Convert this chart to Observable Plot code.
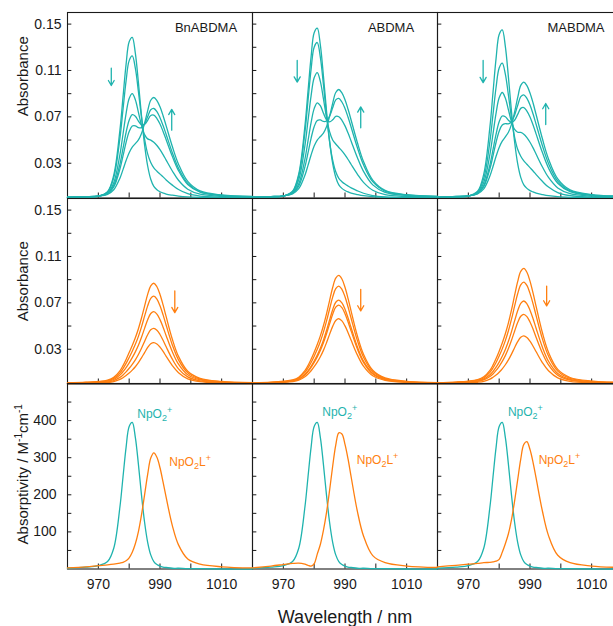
<!DOCTYPE html>
<html><head><meta charset="utf-8">
<script src="https://cdn.jsdelivr.net/npm/d3@7"></script>
<script src="https://cdn.jsdelivr.net/npm/@observablehq/plot@0.6"></script>
<style>
html,body{margin:0;padding:0;background:#fff;overflow:hidden;}
#chart{position:relative;width:613px;height:626px;overflow:hidden;background:#fff;}
</style></head><body><div id="chart"></div>
<script>
// ---------- data ----------
const wavelength = [960,966,970,973,975,977,978,979,980,981,982,983,984,985,986,987,988,989,990,991,992,994,996,999,1003,1010,1020];
const ligands = ["BnABDMA","ABDMA","MABDMA"];

// Row 1: titration spectra (absorbance), one array per curve
const topBnABDMA = [
 [.0004,.0009,.0015,.0055,.0197,.0586,.0870,.1152,.1348,.1386,.1249,.0995,.0709,.0458,.0276,.0162,.0100,.0071,.0054,.0043,.0034,.0024,.0016,.0009,.0005,.0002,.0001],
 [.0005,.0009,.0016,.0052,.0176,.0516,.0763,.1010,.1185,.1225,.1120,.0918,.0695,.0509,.0381,.0306,.0260,.0231,.0206,.0182,.0156,.0111,.0073,.0037,.0017,.0007,.0004],
 [.0006,.0010,.0016,.0043,.0132,.0374,.0550,.0728,.0859,.0901,.0848,.0739,.0626,.0547,.0510,.0499,.0480,.0453,.0417,.0374,.0327,.0233,.0153,.0076,.0033,.0014,.0007],
 [.0007,.0011,.0017,.0040,.0109,.0293,.0427,.0565,.0671,.0719,.0706,.0664,.0632,.0635,.0670,.0712,.0714,.0685,.0638,.0574,.0503,.0359,.0236,.0116,.0050,.0021,.0011],
 [.0007,.0011,.0017,.0037,.0095,.0250,.0363,.0480,.0573,.0621,.0623,.0608,.0607,.0641,.0702,.0761,.0772,.0744,.0693,.0625,.0548,.0391,.0257,.0126,.0054,.0023,.0012],
 [.0007,.0011,.0017,.0032,.0071,.0171,.0245,.0323,.0391,.0439,.0469,.0501,.0557,.0645,.0752,.0843,.0867,.0840,.0786,.0710,.0622,.0444,.0292,.0143,.0061,.0026,.0013]
];
const topABDMA = [
 [.0005,.0009,.0016,.0058,.0208,.0620,.0920,.1217,.1425,.1465,.1321,.1054,.0753,.0490,.0298,.0179,.0113,.0083,.0065,.0052,.0042,.0030,.0020,.0011,.0006,.0003,.0001],
 [.0005,.0009,.0016,.0054,.0191,.0566,.0839,.1110,.1301,.1341,.1215,.0979,.0715,.0487,.0326,.0226,.0170,.0141,.0120,.0103,.0087,.0062,.0041,.0021,.0010,.0004,.0002],
 [.0006,.0010,.0017,.0049,.0157,.0451,.0666,.0881,.1037,.1082,.1006,.0856,.0696,.0572,.0500,.0466,.0436,.0406,.0371,.0332,.0289,.0206,.0135,.0067,.0029,.0013,.0006],
 [.0007,.0012,.0018,.0044,.0123,.0336,.0492,.0650,.0771,.0821,.0796,.0732,.0675,.0656,.0674,.0704,.0701,.0670,.0622,.0560,.0490,.0350,.0230,.0113,.0049,.0021,.0010],
 [.0008,.0012,.0019,.0041,.0103,.0268,.0389,.0515,.0615,.0668,.0673,.0660,.0664,.0706,.0778,.0846,.0859,.0828,.0772,.0696,.0610,.0435,.0286,.0141,.0060,.0026,.0013],
 [.0008,.0012,.0019,.0036,.0080,.0196,.0281,.0371,.0448,.0500,.0530,.0559,.0614,.0704,.0816,.0910,.0936,.0906,.0847,.0765,.0671,.0479,.0315,.0154,.0066,.0028,.0014]
];
const topMABDMA = [
 [.0005,.0009,.0016,.0058,.0206,.0613,.0910,.1204,.1410,.1450,.1308,.1043,.0745,.0485,.0296,.0178,.0113,.0083,.0064,.0052,.0042,.0030,.0020,.0011,.0006,.0003,.0001],
 [.0005,.0010,.0016,.0050,.0168,.0488,.0721,.0955,.1121,.1163,.1069,.0888,.0689,.0526,.0420,.0360,.0320,.0291,.0262,.0233,.0202,.0144,.0094,.0047,.0021,.0009,.0005],
 [.0006,.0011,.0017,.0045,.0134,.0376,.0553,.0732,.0864,.0910,.0862,.0761,.0658,.0591,.0567,.0565,.0550,.0521,.0481,.0432,.0377,.0269,.0177,.0087,.0038,.0016,.0008],
 [.0007,.0012,.0018,.0041,.0108,.0286,.0417,.0551,.0657,.0707,.0701,.0670,.0652,.0671,.0721,.0773,.0780,.0750,.0699,.0630,.0551,.0394,.0259,.0127,.0055,.0023,.0012],
 [.0008,.0013,.0019,.0040,.0098,.0251,.0363,.0481,.0576,.0629,.0641,.0640,.0658,.0714,.0798,.0874,.0890,.0859,.0802,.0724,.0634,.0453,.0298,.0146,.0062,.0027,.0013],
 [.0008,.0013,.0019,.0036,.0079,.0190,.0272,.0360,.0436,.0490,.0527,.0567,.0635,.0740,.0865,.0971,.1000,.0969,.0906,.0819,.0718,.0513,.0337,.0165,.0070,.0030,.0015]
];

// Row 2: decreasing complex spectra (absorbance)
const midBnABDMA = [
 [.0009,.0015,.0022,.0034,.0057,.0113,.0158,.0211,.0271,.0332,.0399,.0477,.0569,.0672,.0773,.0847,.0869,.0839,.0772,.0682,.0581,.0386,.0238,.0110,.0049,.0022,.0011],
 [.0008,.0013,.0019,.0029,.0049,.0096,.0133,.0178,.0229,.0283,.0342,.0411,.0493,.0585,.0674,.0739,.0758,.0733,.0674,.0596,.0507,.0337,.0208,.0096,.0042,.0019,.0009],
 [.0007,.0011,.0016,.0024,.0039,.0077,.0106,.0142,.0183,.0227,.0277,.0334,.0403,.0480,.0554,.0608,.0624,.0603,.0555,.0490,.0417,.0278,.0171,.0079,.0035,.0016,.0008],
 [.0005,.0008,.0012,.0018,.0030,.0057,.0078,.0105,.0136,.0170,.0208,.0254,.0308,.0367,.0425,.0467,.0480,.0464,.0427,.0377,.0321,.0214,.0131,.0061,.0027,.0012,.0006],
 [.0004,.0006,.0009,.0013,.0021,.0040,.0054,.0073,.0095,.0120,.0149,.0184,.0226,.0271,.0315,.0347,.0357,.0345,.0318,.0281,.0239,.0159,.0098,.0045,.0020,.0009,.0004]
];
const midABDMA = [
 [.0010,.0016,.0024,.0036,.0059,.0115,.0159,.0213,.0274,.0341,.0415,.0502,.0605,.0720,.0832,.0913,.0937,.0906,.0834,.0736,.0627,.0417,.0257,.0119,.0052,.0023,.0012],
 [.0009,.0014,.0021,.0032,.0052,.0100,.0138,.0185,.0240,.0299,.0367,.0447,.0542,.0647,.0749,.0823,.0845,.0817,.0752,.0664,.0565,.0376,.0231,.0107,.0047,.0021,.0011],
 [.0008,.0012,.0018,.0027,.0044,.0083,.0114,.0153,.0198,.0249,.0308,.0378,.0461,.0552,.0641,.0705,.0724,.0700,.0645,.0569,.0485,.0322,.0198,.0092,.0041,.0018,.0009],
 [.0007,.0011,.0017,.0026,.0041,.0078,.0107,.0143,.0186,.0234,.0289,.0355,.0433,.0519,.0602,.0663,.0681,.0658,.0606,.0535,.0456,.0303,.0187,.0086,.0038,.0017,.0009],
 [.0006,.0009,.0014,.0021,.0033,.0062,.0085,.0114,.0149,.0188,.0235,.0290,.0356,.0428,.0497,.0548,.0563,.0544,.0501,.0443,.0377,.0251,.0154,.0071,.0032,.0014,.0007]
];
const midMABDMA = [
 [.0010,.0017,.0025,.0038,.0062,.0118,.0163,.0219,.0283,.0353,.0433,.0527,.0639,.0764,.0883,.0971,.0997,.0964,.0887,.0783,.0667,.0444,.0273,.0126,.0056,.0025,.0013],
 [.0009,.0015,.0022,.0033,.0053,.0100,.0138,.0185,.0241,.0303,.0374,.0459,.0559,.0671,.0778,.0855,.0879,.0850,.0782,.0691,.0588,.0391,.0241,.0111,.0049,.0022,.0011],
 [.0007,.0012,.0018,.0027,.0042,.0079,.0108,.0145,.0189,.0239,.0298,.0368,.0452,.0544,.0632,.0696,.0716,.0692,.0637,.0563,.0479,.0319,.0196,.0091,.0040,.0018,.0009],
 [.0006,.0010,.0015,.0022,.0035,.0064,.0087,.0117,.0153,.0195,.0245,.0306,.0377,.0455,.0530,.0584,.0601,.0581,.0535,.0473,.0402,.0268,.0165,.0076,.0034,.0015,.0008],
 [.0004,.0007,.0010,.0015,.0023,.0042,.0058,.0077,.0102,.0131,.0166,.0208,.0258,.0313,.0365,.0403,.0415,.0401,.0369,.0326,.0278,.0185,.0114,.0053,.0023,.0010,.0005]
];

// Row 3: molar absorptivities (M-1 cm-1)
const epsNpO2 = [2,5,9,20,56,167,248,328,384,395,355,282,199,126,72,38,20,12,8,5,4,2,2,1,1,0,0];
const epsBnABDMA = [3,6,9,11,13,16,18,22,30,45,68,101,146,200,255,299,313,301,273,234,193,117,65,27,13,6,3];
const epsABDMA = [3,8,12,15,16,13,10,8,14,40,66,104,152,212,277,334,367,364,336,296,248,156,89,36,17,8,4];
const epsMABDMA = [6,10,13,15,17,18,19,21,26,45,68,95,133,183,240,296,336,343,322,287,244,157,90,37,17,8,4];

// axes
const xMinorTicks = [970,980,990,1000,1010];
const xTickValues = [970,990,1010];
const xTickLabels = ["970","990","1010"];
const absMinorTicks = [0.03,0.05,0.07,0.09,0.11,0.13,0.15];
const absTickValues = [0.03,0.07,0.11,0.15];
const absTickLabels = ["0.03","0.07","0.11","0.15"];
const epsMinorTicks = [50,100,150,200,250,300,350,400,450];
const epsTickValues = [100,200,300,400];
const epsTickLabels = ["100","200","300","400"];

// annotations (data coordinates)
const arrowsTop = [
 {panel:"BnABDMA", x:974.2, y1:0.112, y2:0.097}, {panel:"BnABDMA", x:993.8, y1:0.0585, y2:0.0765},
 {panel:"ABDMA", x:974.5, y1:0.1187, y2:0.100}, {panel:"ABDMA", x:995.1, y1:0.0605, y2:0.0786},
 {panel:"MABDMA", x:974.8, y1:0.1187, y2:0.0995}, {panel:"MABDMA", x:995.1, y1:0.0634, y2:0.0815}
];
const arrowsMid = [
 {panel:"BnABDMA", x:994.8, y1:0.0802, y2:0.0615},
 {panel:"ABDMA", x:995.1, y1:0.0817, y2:0.0630},
 {panel:"MABDMA", x:995.4, y1:0.0845, y2:0.0673}
];
const speciesLabels = [
 {panel:"BnABDMA", x:988.3, y:418, label:"NpO2+", species:0},
 {panel:"BnABDMA", x:993.0, y:288, label:"NpO2L+", species:1},
 {panel:"ABDMA", x:988.3, y:423, label:"NpO2+", species:0},
 {panel:"ABDMA", x:993.8, y:293, label:"NpO2L+", species:1},
 {panel:"MABDMA", x:988.5, y:423, label:"NpO2+", species:0},
 {panel:"MABDMA", x:992.8, y:293, label:"NpO2L+", species:1}
];

// ---------- drawing ----------
const TEAL = "#1fb3ae", ORANGE = "#ff7f10", INK = "#1a1a1a";
const FONT = "'Liberation Sans', Arial, Helvetica, sans-serif";
const W = 623, ML = 66, PW = (W - ML) / 3, PH = 185.5;

function curvesTable(groups) {
  const out = [];
  groups.forEach(([panel, curves]) => curves.forEach((vals, c) =>
    vals.forEach((v, i) => out.push({panel, curve: c, wl: wavelength[i], value: v}))));
  return out;
}
const topData = curvesTable([["BnABDMA", topBnABDMA], ["ABDMA", topABDMA], ["MABDMA", topMABDMA]]);
const midData = curvesTable([["BnABDMA", midBnABDMA], ["ABDMA", midABDMA], ["MABDMA", midMABDMA]]);
const botData = curvesTable([
  ["BnABDMA", [epsNpO2, epsBnABDMA]], ["ABDMA", [epsNpO2, epsABDMA]], ["MABDMA", [epsNpO2, epsMABDMA]]
]);

function styleFor(top) {
  return `max-width:none;background:transparent;overflow:visible;position:absolute;left:0;top:${top}px;font-family:${FONT};`;
}
function panelFrame(yMinor) {
  return [
    Plot.frame({stroke: INK, strokeWidth: 1.1}),
    Plot.tickY(yMinor, {y: d => d, insetRight: PW - 5, stroke: INK}),
    Plot.tickX(xMinorTicks, {x: d => d, insetTop: PH - 5, stroke: INK})
  ];
}
function yLabel(text, dy) {
  return Plot.text([text], {fx: () => ligands[0], text: d => d, frameAnchor: "left", rotate: -90,
    textAnchor: "middle", lineAnchor: "middle", dx: -44, dy, fontSize: 15, fill: INK});
}

const chart = document.getElementById("chart");

// Row 1
chart.append(Plot.plot({
  width: W, height: 12 + PH, marginLeft: ML, marginRight: 0, marginTop: 12, marginBottom: 0,
  style: styleFor(0),
  x: {domain: [960, 1020], axis: null},
  y: {domain: [0, 0.16], axis: null},
  fx: {domain: ligands, padding: 0, axis: null},
  marks: [
    ...panelFrame(absMinorTicks),
    Plot.line(topData, {fx: "panel", x: "wl", y: "value", z: "curve", stroke: TEAL, strokeWidth: 1.3, curve: "catmull-rom"}),
    Plot.arrow(arrowsTop, {fx: "panel", x1: "x", x2: "x", y1: "y1", y2: "y2", stroke: TEAL, strokeWidth: 1.3, headLength: 7}),
    Plot.text(ligands, {fx: d => d, text: d => d, frameAnchor: "top", dx: 46, dy: 10, fontSize: 13, fill: INK}),
    Plot.axisY(absTickValues, {tickSize: 0, tickPadding: 6, fontSize: 14, fill: INK,
      tickFormat: d => absTickLabels[absTickValues.indexOf(d)]}),
    yLabel("Absorbance", -29)
  ]
}));

// Row 2
chart.append(Plot.plot({
  width: W, height: 3 + PH, marginLeft: ML, marginRight: 0, marginTop: 3, marginBottom: 0,
  style: styleFor(194.5),
  x: {domain: [960, 1020], axis: null},
  y: {domain: [0, 0.16], axis: null},
  fx: {domain: ligands, padding: 0, axis: null},
  marks: [
    ...panelFrame(absMinorTicks),
    Plot.line(midData, {fx: "panel", x: "wl", y: "value", z: "curve", stroke: ORANGE, strokeWidth: 1.3, curve: "catmull-rom"}),
    Plot.arrow(arrowsMid, {fx: "panel", x1: "x", x2: "x", y1: "y1", y2: "y2", stroke: ORANGE, strokeWidth: 1.3, headLength: 7}),
    Plot.axisY(absTickValues, {tickSize: 0, tickPadding: 6, fontSize: 14, fill: INK,
      tickFormat: d => absTickLabels[absTickValues.indexOf(d)]}),
    yLabel("Absorbance", -10)
  ]
}));

// Row 3
chart.append(Plot.plot({
  width: W, height: 3 + PH + 57.5, marginLeft: ML, marginRight: 0, marginTop: 3, marginBottom: 57.5,
  style: styleFor(380),
  x: {domain: [960, 1020], axis: null},
  y: {domain: [0, 500], axis: null},
  fx: {domain: ligands, padding: 0, axis: null},
  marks: [
    ...panelFrame(epsMinorTicks),
    Plot.line(botData, {fx: "panel", x: "wl", y: "value", z: "curve",
      stroke: d => d.curve === 0 ? TEAL : ORANGE, strokeWidth: 1.3, curve: "catmull-rom"}),
    Plot.text(speciesLabels, {fx: "panel", x: "x", y: "y", text: "label", textAnchor: "start",
      fill: d => d.species === 0 ? TEAL : ORANGE, fontSize: 12}),
    Plot.axisY(epsTickValues, {tickSize: 0, tickPadding: 11, fontSize: 14, fill: INK,
      tickFormat: d => epsTickLabels[epsTickValues.indexOf(d)]}),
    Plot.axisX(xTickValues, {tickSize: 0, tickPadding: 10, fontSize: 14, fill: INK,
      tickFormat: d => xTickLabels[xTickValues.indexOf(d)]}),
    yLabel("Absorptivity / M-1cm-1", -2),
    Plot.text(["Wavelength / nm"], {fx: () => ligands[1], text: d => d, frameAnchor: "bottom",
      lineAnchor: "middle", dy: 48, fontSize: 18, fill: INK})
  ]
}));

// rich text: sub/superscripts
chart.querySelectorAll("text").forEach(t => {
  const s = t.textContent;
  if (s === "NpO2+") {
    t.setAttribute("text-anchor", "middle");
    t.innerHTML = 'NpO<tspan dy="3" font-size="9">2</tspan><tspan dy="-8" font-size="9">+</tspan>';
  } else if (s === "NpO2L+") {
    t.innerHTML = 'NpO<tspan dy="3" font-size="9">2</tspan><tspan dy="-3">L</tspan><tspan dy="-5" font-size="9">+</tspan>';
  } else if (s === "Absorptivity / M-1cm-1") {
    t.innerHTML = 'Absorptivity / M<tspan dy="-6" font-size="10">-1</tspan><tspan dy="6">cm</tspan><tspan dy="-6" font-size="10">-1</tspan>';
  }
});
</script></body></html>
